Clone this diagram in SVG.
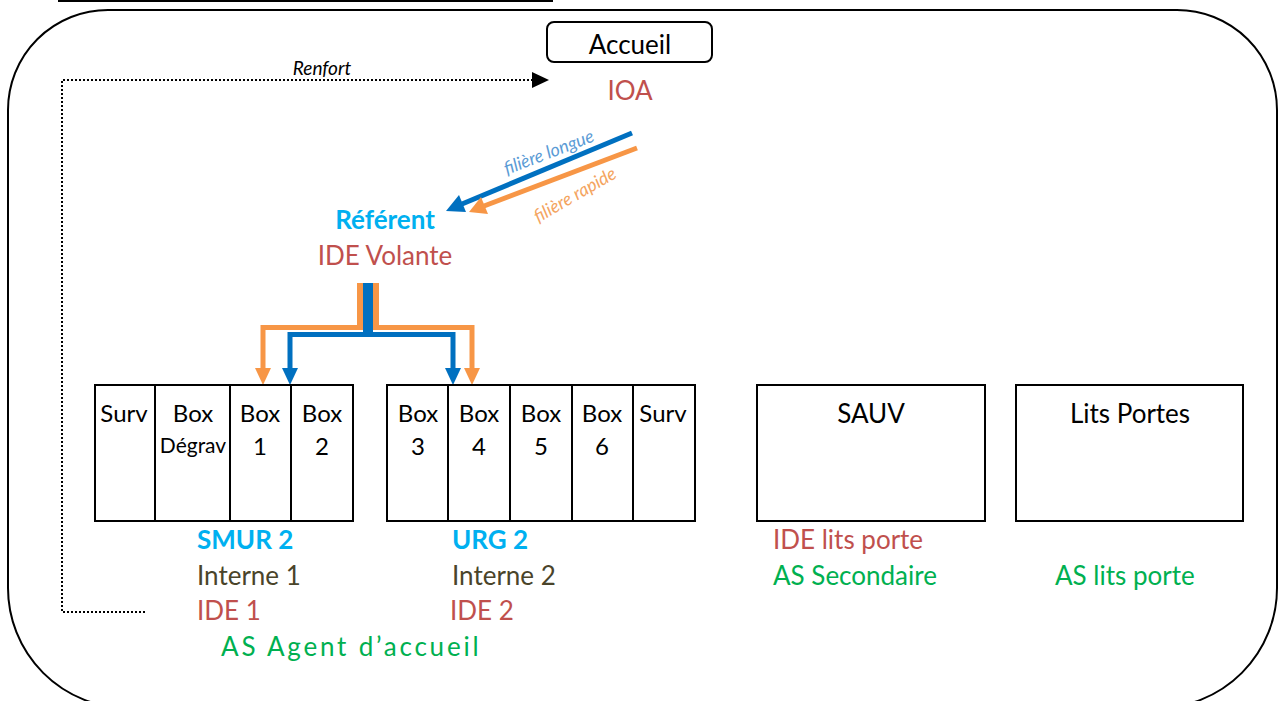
<svg xmlns="http://www.w3.org/2000/svg" width="1279" height="701" viewBox="0 0 1279 701">
<defs>
<style>
text{font-family:Lato,"Open Sans","Liberation Sans",sans-serif;}
.t{font-size:24px;fill:#000;}
.lbl{font-size:26px;}
.red{fill:#C0504D;}
.blue{fill:#00B0F0;font-weight:bold;}
.dark{fill:#4A442A;}
.green{fill:#00B050;}
.box{fill:#fff;stroke:#000;stroke-width:2;}
.div{stroke:#000;stroke-width:2;}
</style>
</defs>
<rect width="1279" height="701" fill="#fff"/>
<line x1="58" y1="1" x2="553" y2="1" stroke="#000" stroke-width="2"/>
<path d="M108,10 H1177 A100,100 0 0 1 1277,110 V588 A120,120 0 0 1 1157,708 H128 A120,120 0 0 1 8,588 V110 A100,100 0 0 1 108,10 Z" fill="none" stroke="#000" stroke-width="2"/>

<g id="accueil">
<rect x="547" y="22" width="165" height="40" rx="7" class="box"/>
<text x="630" y="54" text-anchor="middle" class="lbl" fill="#000">Accueil</text>
<text x="630" y="100" text-anchor="middle" class="lbl red">IOA</text>
</g>

<g id="referent">
<text x="385" y="229" text-anchor="middle" class="lbl blue">Référent</text>
<text x="385" y="265" text-anchor="middle" class="lbl red">IDE Volante</text>
</g>

<g id="connectors">
<path d="M145,612 H62 V80 H533" fill="none" stroke="#000" stroke-width="2" stroke-dasharray="2,2"/>
<path d="M532,72 L549,80 L532,88 Z" fill="#000"/>
<text x="322" y="75" text-anchor="middle" font-size="19" font-style="italic" fill="#000">Renfort</text>
<!-- filiere arrows -->
<line x1="632" y1="133" x2="462" y2="204" stroke="#0070C0" stroke-width="5"/>
<path d="M446,211 L459,195 L466,212 Z" fill="#0070C0"/>
<line x1="637" y1="148" x2="484" y2="206" stroke="#F79646" stroke-width="5"/>
<path d="M469,212 L481,197 L488,214 Z" fill="#F79646"/>
<text x="551" y="158" text-anchor="middle" font-size="18" font-style="italic" fill="#5B9BD5" transform="rotate(-21 551 158)">filière longue</text>
<text x="578" y="200" text-anchor="middle" font-size="18" font-style="italic" fill="#F4A460" transform="rotate(-30 578 200)">filière rapide</text>
<!-- tree -->
<path d="M263,370 V327.5 H360 V283" fill="none" stroke="#F79646" stroke-width="5"/>
<path d="M472,370 V327.5 H376 V283" fill="none" stroke="#F79646" stroke-width="5"/>
<rect x="357" y="283" width="22" height="47" fill="#F79646"/>
<path d="M290,370 V334.5 H453 V370" fill="none" stroke="#0070C0" stroke-width="5"/>
<rect x="363" y="283" width="10" height="54" fill="#0070C0"/>
<path d="M255,368 H271 L263,385 Z" fill="#F79646"/>
<path d="M282,368 H298 L290,385 Z" fill="#0070C0"/>
<path d="M445,368 H461 L453,385 Z" fill="#0070C0"/>
<path d="M464,368 H480 L472,385 Z" fill="#F79646"/>
</g>

<g id="smur">
<rect x="95" y="385" width="258" height="136" class="box"/>
<line x1="155" y1="385" x2="155" y2="521" class="div"/>
<line x1="230" y1="385" x2="230" y2="521" class="div"/>
<line x1="291" y1="385" x2="291" y2="521" class="div"/>
<text x="124" y="422" text-anchor="middle" class="t">Surv</text>
<text x="193" y="422" text-anchor="middle" class="t">Box</text>
<text x="193" y="453" text-anchor="middle" font-size="21" fill="#000">Dégrav</text>
<text x="260" y="422" text-anchor="middle" class="t">Box</text>
<text x="260" y="455" text-anchor="middle" class="t">1</text>
<text x="322" y="422" text-anchor="middle" class="t">Box</text>
<text x="322" y="455" text-anchor="middle" class="t">2</text>
<text x="197" y="549" class="lbl blue">SMUR 2</text>
<text x="197" y="585" class="lbl dark">Interne 1</text>
<text x="197" y="620" class="lbl red">IDE 1</text>
</g>

<g id="urg">
<rect x="387" y="385" width="308" height="136" class="box"/>
<line x1="448" y1="385" x2="448" y2="521" class="div"/>
<line x1="510" y1="385" x2="510" y2="521" class="div"/>
<line x1="572" y1="385" x2="572" y2="521" class="div"/>
<line x1="633" y1="385" x2="633" y2="521" class="div"/>
<text x="418" y="422" text-anchor="middle" class="t">Box</text>
<text x="418" y="455" text-anchor="middle" class="t">3</text>
<text x="479" y="422" text-anchor="middle" class="t">Box</text>
<text x="479" y="455" text-anchor="middle" class="t">4</text>
<text x="541" y="422" text-anchor="middle" class="t">Box</text>
<text x="541" y="455" text-anchor="middle" class="t">5</text>
<text x="602" y="422" text-anchor="middle" class="t">Box</text>
<text x="602" y="455" text-anchor="middle" class="t">6</text>
<text x="663" y="422" text-anchor="middle" class="t">Surv</text>
<text x="452" y="549" class="lbl blue">URG 2</text>
<text x="452" y="585" class="lbl dark">Interne 2</text>
<text x="450" y="620" class="lbl red">IDE 2</text>
</g>

<g id="as-accueil">
<text x="221" y="656" class="lbl green" letter-spacing="2.8">AS Agent d’accueil</text>
</g>

<g id="sauv">
<rect x="757" y="385" width="228" height="136" class="box"/>
<text x="871" y="423" text-anchor="middle" class="lbl" fill="#000">SAUV</text>
<text x="773" y="549" class="lbl red">IDE lits porte</text>
<text x="773" y="585" class="lbl green">AS Secondaire</text>
</g>

<g id="lits-portes">
<rect x="1016" y="385" width="227" height="136" class="box"/>
<text x="1130" y="423" text-anchor="middle" class="lbl" fill="#000">Lits Portes</text>
<text x="1055" y="585" class="lbl green">AS lits porte</text>
</g>
</svg>
